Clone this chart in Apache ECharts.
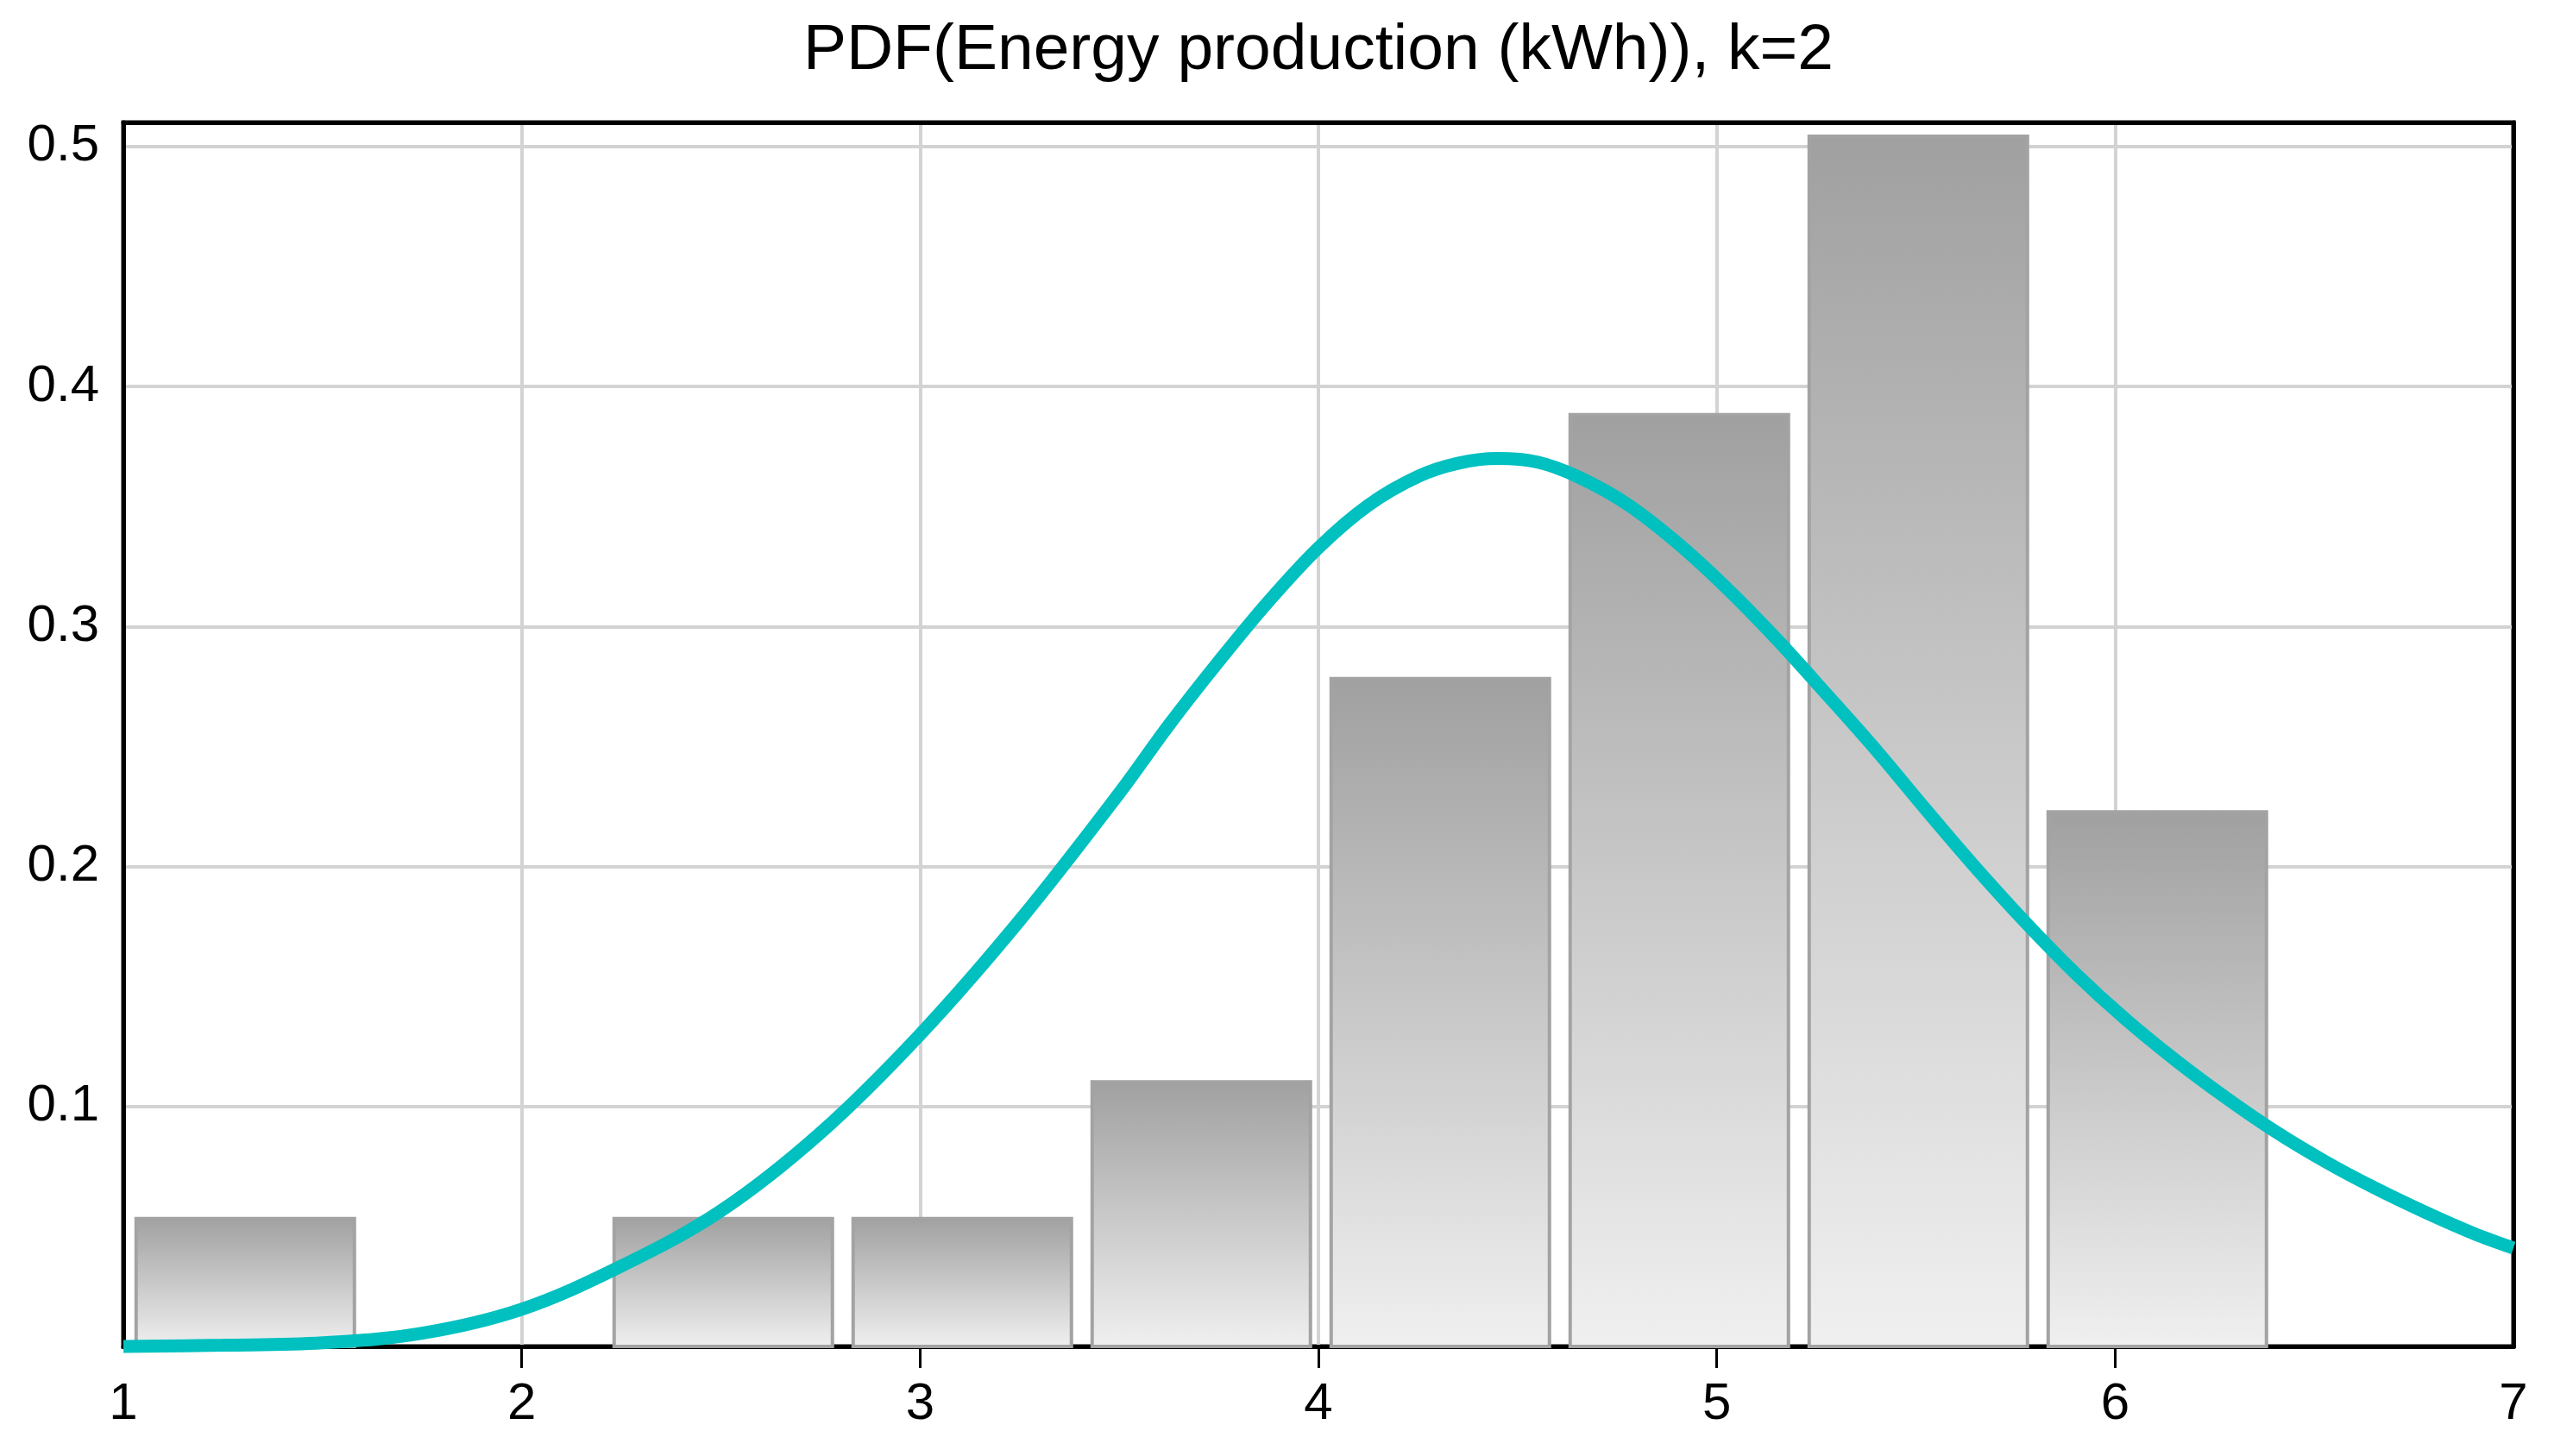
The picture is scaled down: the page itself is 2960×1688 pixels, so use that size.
<!DOCTYPE html>
<html>
<head>
<meta charset="utf-8">
<script src="https://cdn.jsdelivr.net/npm/echarts@6/dist/echarts.min.js"></script>
<style>
  html, body { margin: 0; padding: 0; background: #ffffff; }
  #chart { width: 2960px; height: 1688px; }
</style>
</head>
<body>
<div id="chart"></div>
<script>
// ---- data ----
const titleText = 'PDF(Energy production (kWh)), k=2';
const binEdges = [1.0, 1.6, 2.2, 2.8, 3.4, 4.0, 4.6, 5.2, 5.8, 6.4];
const binDensity = [0.054, 0, 0.054, 0.054, 0.111, 0.279, 0.389, 0.505, 0.2235];
const curveX = [1.0, 1.25, 1.5, 1.75, 2.0, 2.25, 2.5, 2.75, 3.0, 3.25, 3.5, 3.625, 3.75, 3.875, 4.0,
  4.125, 4.25, 4.35, 4.45, 4.55, 4.65, 4.775, 4.9, 5.025, 5.15, 5.275, 5.4, 5.525, 5.65, 5.775, 5.9,
  6.025, 6.15, 6.275, 6.4, 6.525, 6.65, 6.775, 6.9, 7.0];
const curveY = [0.0, 0.0005, 0.0015, 0.0055, 0.0155, 0.0335, 0.0565, 0.089, 0.130, 0.1775, 0.2305, 0.259, 0.2855, 0.3105, 0.3328,
  0.3505, 0.3625, 0.368, 0.370, 0.3685, 0.3625, 0.351, 0.335, 0.316, 0.2948, 0.2719, 0.2485, 0.2237, 0.1995, 0.1767, 0.1555,
  0.1365, 0.1195, 0.104, 0.0898, 0.0773, 0.0662, 0.0562, 0.0471, 0.041];
const xTickValues = [2, 3, 4, 5, 6];
const yLabelValues = [0.1, 0.2, 0.3, 0.4, 0.5];

// ---- build series data ----
const barData = [];
for (let i = 0; i < binDensity.length; i++) {
  if (binDensity[i] > 0) barData.push([binEdges[i], binEdges[i + 1], binDensity[i]]);
}
const curveData = curveX.map((x, i) => [x, curveY[i]]);

const FONT = '"Liberation Sans", Arial, sans-serif';
const chart = echarts.init(document.getElementById('chart'), null, { renderer: 'canvas' });

const frameLine = { show: true, onZero: false, lineStyle: { color: '#000000', width: 5 } };

chart.setOption({
  animation: false,
  backgroundColor: '#ffffff',
  title: {
    text: titleText,
    left: 1528,
    textAlign: 'center',
    top: 22,
    padding: 0,
    textStyle: { fontFamily: FONT, fontSize: 75, fontWeight: 'normal', color: '#000000' }
  },
  grid: {
    left: 143, right: 47, top: 142, bottom: 127,
    show: true, borderColor: '#000000', borderWidth: 5, backgroundColor: 'transparent'
  },
  xAxis: [{
    type: 'value', min: 1, max: 7, interval: 1,
    axisLine: frameLine,
    axisTick: { show: true, customValues: xTickValues, length: 25, lineStyle: { color: '#000000', width: 3 } },
    axisLabel: { margin: 37, fontFamily: FONT, fontSize: 60, color: '#000000' },
    splitLine: { show: true, lineStyle: { color: '#d3d3d3', width: 4 } }
  }, {
    type: 'value', min: 1, max: 7, position: 'top',
    axisLine: frameLine, axisTick: { show: false }, axisLabel: { show: false }, splitLine: { show: false }
  }],
  yAxis: [{
    type: 'value', min: 0, max: 0.51, interval: 0.1,
    axisLine: frameLine,
    axisTick: { show: false },
    axisLabel: {
      margin: 28, fontFamily: FONT, fontSize: 60, color: '#000000',
      customValues: yLabelValues,
      formatter: function (v) { return v.toFixed(1); }
    },
    splitLine: { show: true, showMinLine: false, showMaxLine: false, lineStyle: { color: '#d3d3d3', width: 4 } }
  }, {
    type: 'value', min: 0, max: 0.51, position: 'right',
    axisLine: frameLine, axisTick: { show: false }, axisLabel: { show: false }, splitLine: { show: false }
  }],
  series: [
    {
      type: 'custom',
      z: 2,
      data: barData,
      encode: { x: [0, 1], y: 2 },
      renderItem: function (params, api) {
        const x0 = api.value(0) + 0.032;
        const x1 = api.value(1) - 0.02;
        const h = api.value(2);
        const pTop = api.coord([x0, h]);
        const pBot = api.coord([x1, 0]);
        return {
          type: 'rect',
          shape: { x: pTop[0], y: pTop[1] + 2, width: pBot[0] - pTop[0], height: pBot[1] - pTop[1] - 2 },
          style: {
            fill: new echarts.graphic.LinearGradient(0, 0, 0, 1, [
              { offset: 0, color: '#a0a0a0' },
              { offset: 1, color: '#f0f0f0' }
            ]),
            stroke: '#a3a3a3',
            lineWidth: 4
          }
        };
      }
    },
    {
      type: 'line',
      z: 5,
      data: curveData,
      smooth: 0.35,
      showSymbol: false,
      clip: false,
      lineStyle: { color: '#00c0c0', width: 15 }
    }
  ]
});
</script>
</body>
</html>
